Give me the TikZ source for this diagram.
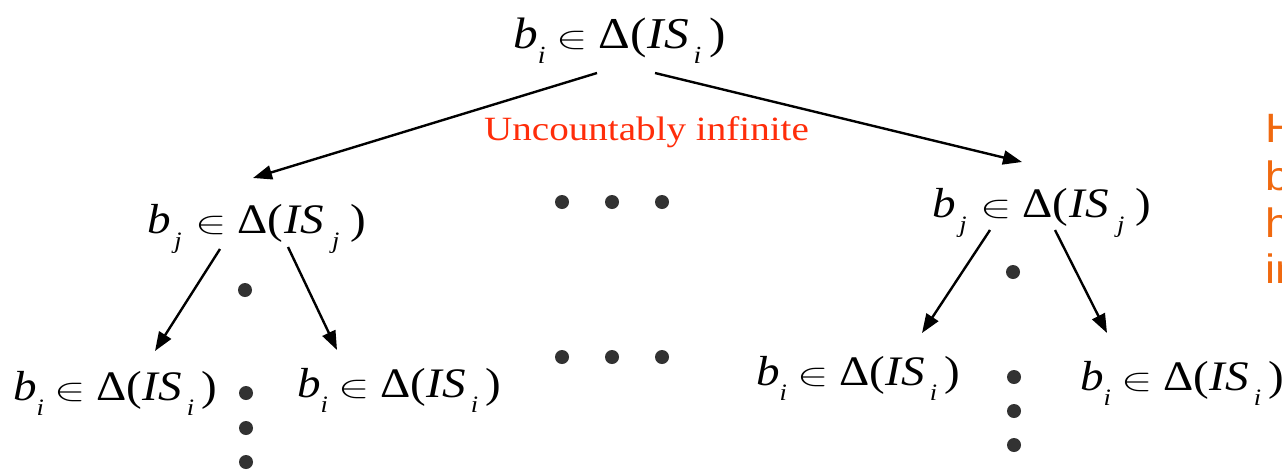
\documentclass[tikz,border=0pt]{standalone}
\usepackage{fontspec}
\setmainfont{Liberation Serif}
\newfontfamily\sansf{Liberation Sans}
\usetikzlibrary{arrows.meta,calc}
\definecolor{redtxt}{RGB}{255,45,10}
\definecolor{orangetxt}{RGB}{240,105,15}
\definecolor{dotgray}{RGB}{50,50,50}
\newcommand\subsc[1]{\raisebox{-0.36em}{\scalebox{0.56}{\itshape #1}}}
\newcommand\elem{\scalebox{4.2}[3.2]{\fontsize{10}{12}\selectfont$\in$}}
% #1 subscript of b, #2 subscript of IS, #3 extra space round the subscripts
\newcommand\belief[3]{\scalebox{1.12}[1]{{\itshape b}\kern#3\subsc{#1}\kern\dimexpr0.22em+#3\relax\elem\kern0.22em\char"0394(\kern0.02em{\itshape IS}\kern\dimexpr0.1em+#3\relax\subsc{#2}\kern\dimexpr0.16em+#3\relax)}}
\newcommand\beli{\belief{i}{i}{0em}}
\newcommand\belj{\belief{j}{j}{0.08em}}
\tikzset{
  formula/.style={inner sep=0pt, anchor=base west, font=\fontsize{42}{48}\selectfont},
  topformula/.style={formula, font=\fontsize{44}{48}\selectfont},
  arr/.style={line width=2.4pt, -{Triangle[length=19pt,width=14pt]}},
  dot/.style={circle, fill=dotgray, inner sep=0pt, minimum size=14pt},
  orangeline/.style={inner sep=0pt, anchor=base west, text=orangetxt, font=\sansf\fontsize{41}{46}\selectfont}
}
\begin{document}
\begin{tikzpicture}[x=1pt,y=-1pt]
\useasboundingbox (0,0) rectangle (1282,472);
\clip (0,0) rectangle (1282,472);
\fill[white] (0,0) rectangle (1282,472);
% formulas
\node[topformula] (top) at (513,48) {\beli};
\node[formula] (lm) at (147,233) {\belj};
\node[formula] (rm) at (932,217) {\belj};
\node[formula] (ll) at (13,400) {\beli};
\node[formula] (lr) at (297,397) {\beli};
\node[formula] (rl) at (756,385) {\beli};
\node[formula] (rr) at (1080,390) {\beli};
% label
\node[inner sep=0pt, anchor=base west, text=redtxt, font=\fontsize{34}{38}\selectfont] (unc) at (484,140) {\scalebox{1.15}[1]{Uncountably infinite}};
% orange side text (cut off at the picture's edge)
\node[orangeline] (o1) at (1265,142) {\scalebox{1.1}[1]{H}};
\node[orangeline] (o2) at (1265,190) {\scalebox{1.1}[1]{b}};
\node[orangeline] (o3) at (1265,237) {\scalebox{1.1}[1]{h}};
\node[orangeline] (o4) at (1265,283) {\scalebox{1.1}[1]{in}};
% arrows
\draw[arr] ($(top.base west)+(84,25)$) -- ($(lm.base west)+(106,-55)$);
\draw[arr] ($(top.base west)+(142,25)$) -- ($(rm.base west)+(90,-55)$);
\draw[arr] ($(lm.base west)+(73,16)$) -- ($(ll.base west)+(142,-49)$);
\draw[arr] ($(lm.base west)+(141,14)$) -- ($(lr.base west)+(40,-47)$);
\draw[arr] ($(rm.base west)+(58,13)$) -- ($(rl.base west)+(166,-52)$);
\draw[arr] ($(rm.base west)+(123,13)$) -- ($(rr.base west)+(27,-57)$);
% dots
\node[dot] (d1) at (562,202) {};
\node[dot] (d2) at (612,202) {};
\node[dot] (d3) at (662,202) {};
\node[dot] (d4) at (562,357) {};
\node[dot] (d5) at (612,357) {};
\node[dot] (d6) at (662,357) {};
\node[dot] (l1) at (245,290) {};
\node[dot] (l2) at (246,393) {};
\node[dot] (l3) at (246,428) {};
\node[dot] (l4) at (246,462) {};
\node[dot] (r1) at (1013,272) {};
\node[dot] (r2) at (1014,377) {};
\node[dot] (r3) at (1014,411) {};
\node[dot] (r4) at (1014,445) {};
\end{tikzpicture}
\end{document}
